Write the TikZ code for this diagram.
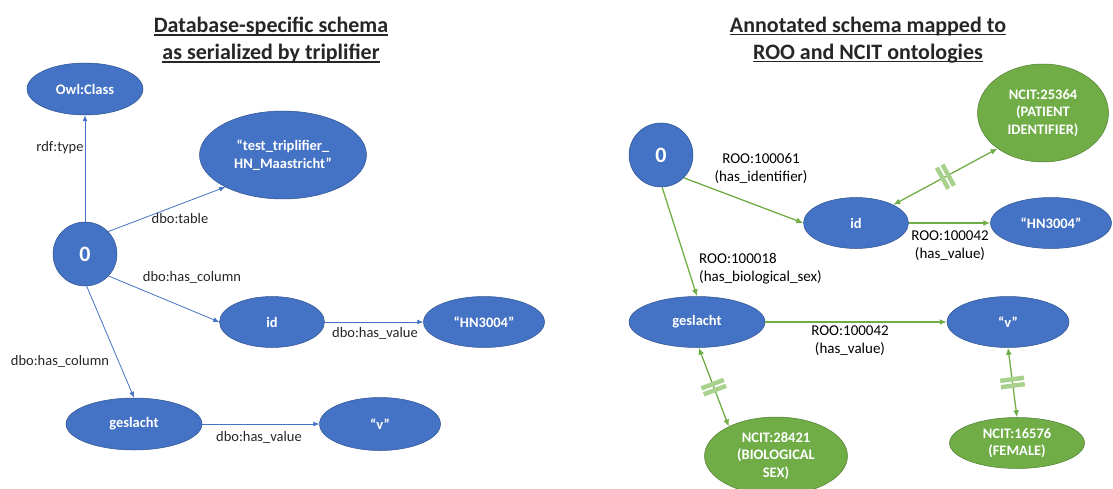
\documentclass[tikz,border=0pt]{standalone}
\usepackage{fontspec}
\setmainfont{Carlito}
\usetikzlibrary{arrows.meta,shapes.geometric,decorations.markings}
\definecolor{nodeblue}{HTML}{4472C4}
\definecolor{rimblue}{HTML}{2F528F}
\definecolor{nodegreen}{HTML}{70AD47}
\definecolor{rimgreen}{HTML}{507E32}
\definecolor{barsgreen}{HTML}{A9D18E}
\newcommand{\titleline}[1]{\setbox0\hbox{#1}\rlap{\rule[-3pt]{\wd0}{1.2pt}}\box0}

\begin{document}
\begin{tikzpicture}[x=1pt,y=-1pt,
    blueball/.style={ellipse,fill=nodeblue,draw=rimblue,line width=0.5pt,inner sep=0pt,
      text=white,font=\fontsize{14.5}{17.5}\selectfont\bfseries,align=center},
    greenball/.style={blueball,fill=nodegreen,draw=rimgreen},
    zeroball/.style={blueball,circle,minimum size=64pt,font=\fontsize{22}{26}\selectfont\bfseries},
    dboedge/.style={draw=nodeblue,line width=0.8pt,-{Latex[length=6pt,width=5pt]}},
    rooedge/.style={draw=nodegreen,line width=1.3pt,-{Latex[length=7pt,width=6pt]}},
    sameas/.style={rooedge,{Latex[length=7pt,width=6pt]}-{Latex[length=7pt,width=6pt]},
      postaction={decorate},
      decoration={markings,mark=at position 0.5 with
        {\draw[-,barsgreen,line width=4.5pt] (-3.2,-12) -- (-3.2,12) (3.2,-12) -- (3.2,12);}}},
    dbolbl/.style={font=\fontsize{14.5}{17}\selectfont,text=black!85,inner sep=0pt},
    roolbl/.style={font=\fontsize{15}{18}\selectfont,text=black,inner sep=0pt,align=center},
    heading/.style={font=\fontsize{22}{27}\selectfont\bfseries,text=black!85,align=center,inner sep=0pt}
  ]
  \useasboundingbox (0,0) rectangle (1113,489);

  % titles
  \node[heading] (headL) at (271,40) {\titleline{Database-specific schema}\\\titleline{as serialized by triplifier}};
  \node[heading] (headR) at (868,40) {\titleline{Annotated schema mapped to}\\\titleline{ROO and NCIT ontologies}};

  % database-specific schema
  \node[blueball,minimum width=116pt,minimum height=52pt] (owl) at (85,89) {Owl:Class};
  \node[blueball,minimum width=167pt,minimum height=88pt] (tbl) at (283,155) {“test\_triplifier\_\\HN\_Maastricht”};
  \node[zeroball] (zeroL) at (85,254) {0};
  \node[blueball,minimum width=105pt,minimum height=51pt] (idL) at (272,322) {id};
  \node[blueball,minimum width=121pt,minimum height=51pt] (hnL) at (484,322) {“HN3004”};
  \node[blueball,minimum width=136pt,minimum height=52pt] (gesL) at (134,424) {geslacht};
  \node[blueball,minimum width=121pt,minimum height=53pt] (vL) at (380,424) {“v”};

  \draw[dboedge] (zeroL.north) -- (owl.south);
  \draw[dboedge] (zeroL.44) -- (tbl.209);
  \draw[dboedge] (zeroL.317) -- (idL.west);
  \draw[dboedge] (zeroL.273) -- (gesL.north);
  \draw[dboedge] (idL.east) -- (hnL.west);
  \draw[dboedge] (gesL.east) -- (vL.west);

  \node[dbolbl] (rdftype) at (60,148) {rdf:type};
  \node[dbolbl] (dbotable) at (180,219) {dbo:table};
  \node[dbolbl] (hascolA) at (192,277) {dbo:has\_column};
  \node[dbolbl] (hasvalA) at (375,333) {dbo:has\_value};
  \node[dbolbl] (hascolB) at (60,361) {dbo:has\_column};
  \node[dbolbl] (hasvalB) at (259,437) {dbo:has\_value};

  % annotated schema
  \node[zeroball] (zeroR) at (661,155) {0};
  \node[greenball,minimum width=131pt,minimum height=98pt] (ncPat) at (1043,113) {NCIT:25364\\(PATIENT\\IDENTIFIER)};
  \node[blueball,minimum width=105pt,minimum height=51pt] (idR) at (856,223) {id};
  \node[blueball,minimum width=121pt,minimum height=51pt] (hnR) at (1051,223) {“HN3004”};
  \node[blueball,minimum width=136pt,minimum height=51pt] (gesR) at (697,322) {geslacht};
  \node[blueball,minimum width=122pt,minimum height=51pt] (vR) at (1008,322) {“v”};
  \node[greenball,minimum width=143pt,minimum height=78pt] (ncSex) at (776,456) {NCIT:28421\\(BIOLOGICAL\\SEX)};
  \node[greenball,minimum width=135pt,minimum height=51pt] (ncFem) at (1017,443) {NCIT:16576\\(FEMALE)};

  \draw[rooedge] (zeroR.315) -- (idR.west);
  \draw[rooedge] (zeroR.272) -- (gesR.north);
  \draw[rooedge,line width=2.2pt] (idR.east) -- (hnR.west);
  \draw[rooedge] (gesR.east) -- (vR.west);
  \draw[sameas] (idR.26) -- (ncPat.218);
  \draw[sameas] (gesR.274) -- (ncSex.148);
  \draw[sameas] (vR.south) -- (ncFem.north);

  \node[roolbl] (roo61) at (761,168) {ROO:100061\\(has\_identifier)};
  \node[roolbl] (roo42A) at (950,246) {ROO:100042\\(has\_value)};
  \node[roolbl,anchor=west,align=left] (roo18) at (699,269) {ROO:100018\\(has\_biological\_sex)};
  \node[roolbl] (roo42B) at (850,341) {ROO:100042\\(has\_value)};
\end{tikzpicture}
\end{document}
